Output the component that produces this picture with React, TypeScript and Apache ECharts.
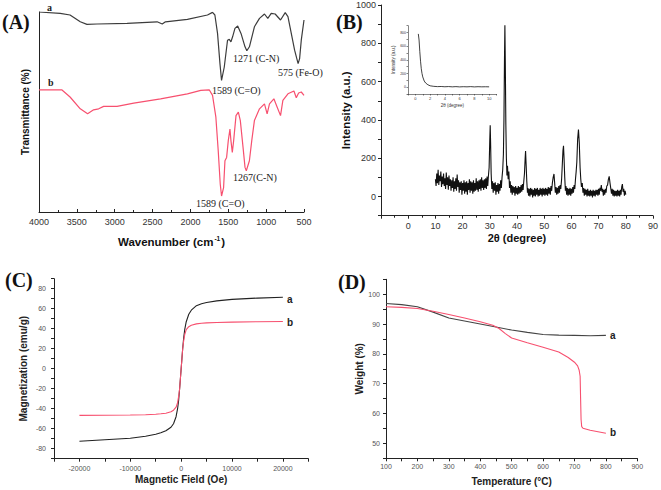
import React, { useEffect, useRef } from "react";
import * as echarts from "echarts";

// ---------- Panel A: FTIR ----------
const ftirWaveA = [4000, 3720, 3590, 3455, 3367, 3234, 2836, 2440, 2372, 2330, 2040, 1775, 1708, 1677, 1642, 1610, 1589, 1553, 1510, 1487, 1465, 1443, 1412, 1376, 1332, 1279, 1255, 1221, 1155, 1088, 1022, 978, 933, 881, 810, 748, 712, 624, 578, 558, 536, 500];
const ftirTransA = [100, 99.3, 98.5, 95.1, 93.8, 94, 94.3, 95.1, 94, 95.1, 96.3, 98.5, 99.8, 98.5, 89.3, 74.2, 65.8, 72.5, 85.9, 86.3, 85.1, 87.6, 91.8, 93, 89.3, 82.6, 80.6, 82.6, 92.6, 96.8, 99, 96.8, 99.3, 99, 96, 99.7, 97.7, 80.9, 74.2, 76.7, 85.9, 96];
const ftirWaveB = [4000, 3700, 3590, 3455, 3358, 3279, 3212, 3146, 2969, 2748, 2394, 2040, 1863, 1752, 1708, 1664, 1633, 1606, 1589, 1562, 1544, 1522, 1500, 1478, 1465, 1447, 1429, 1398, 1367, 1341, 1305, 1279, 1262, 1221, 1190, 1155, 1088, 1022, 987, 956, 898, 854, 810, 779, 712, 633, 602, 571, 536, 500];
const ftirTransB = [61.1, 61.1, 57.5, 51.6, 49.1, 51.1, 51.6, 52.8, 52.8, 54.4, 56.6, 59.1, 60.8, 61.1, 58.3, 47.4, 30.7, 13.9, 8, 12.2, 25.6, 27.3, 35.7, 41.5, 35.7, 29.8, 35.7, 48.2, 49.9, 45.7, 32.3, 22.3, 20.6, 25.6, 35.7, 45.7, 51.6, 54.1, 49.1, 54.1, 56.6, 52.4, 48.2, 55.8, 59.1, 60.5, 57.1, 59.5, 60, 58.3];
const ftirTicks = [4000, 3500, 3000, 2500, 2000, 1500, 1000, 500];

// ---------- Panel B: XRD ([2θ, intensity]) ----------
const xrdPattern = [[10,90],[10.25,55],[10.5,120],[10.75,70],[11,140],[11.25,60],[11.5,110],[11.75,80],[12,130],[12.25,50],[12.5,105],[12.75,65],[13,120],[13.25,55],[13.5,95],[13.75,40],[14,125],[14.25,60],[14.5,100],[14.75,35],[15,110],[15.25,55],[15.5,90],[15.75,30],[16,85],[16.25,45],[16.5,100],[16.75,25],[17,80],[17.25,40],[17.5,95],[17.75,30],[18,115],[18.25,50],[18.5,85],[18.75,20],[19,75],[19.25,35],[19.5,80],[19.75,10],[20,70],[20.25,30],[20.5,85],[20.75,15],[21,75],[21.25,25],[21.5,80],[21.75,10],[22,70],[22.25,35],[22.5,90],[22.75,20],[23,80],[23.25,30],[23.5,75],[23.75,15],[24,85],[24.25,25],[24.5,70],[24.75,30],[25,95],[25.25,35],[25.5,80],[25.75,25],[26,85],[26.25,40],[26.5,90],[26.75,30],[27,100],[27.25,45],[27.5,85],[27.75,35],[28,90],[28.25,45],[28.5,95],[28.75,40],[29,105],[29.25,55],[29.5,110],[29.75,150],[30,300],[30.15,372],[30.3,280],[30.5,120],[30.75,40],[31,80],[31.25,20],[31.5,70],[31.75,30],[32,75],[32.25,10],[32.5,60],[32.75,25],[33,70],[33.25,15],[33.5,65],[33.75,30],[34,85],[34.25,45],[34.5,100],[34.75,140],[35,220],[35.2,400],[35.4,720],[35.55,894],[35.7,700],[35.9,380],[36.1,200],[36.3,110],[36.5,160],[36.75,90],[37,130],[37.25,45],[37.5,80],[37.75,20],[38,60],[38.25,10],[38.5,55],[38.75,20],[39,50],[39.25,5],[39.5,55],[39.75,15],[40,45],[40.25,10],[40.5,55],[40.75,15],[41,50],[41.25,20],[41.5,60],[41.75,25],[42,65],[42.25,35],[42.5,80],[42.75,120],[43,200],[43.15,238],[43.35,170],[43.6,80],[43.85,20],[44,45],[44.25,5],[44.5,40],[44.75,0],[45,45],[45.25,10],[45.5,40],[45.75,-5],[46,35],[46.25,5],[46.5,45],[46.75,0],[47,40],[47.25,10],[47.5,45],[47.75,0],[48,35],[48.25,5],[48.5,45],[48.75,10],[49,40],[49.25,0],[49.5,45],[49.75,10],[50,40],[50.25,5],[50.5,45],[50.75,10],[51,40],[51.25,5],[51.5,50],[51.75,15],[52,45],[52.25,10],[52.5,55],[52.75,30],[53,70],[53.3,100],[53.6,118],[53.85,70],[54.1,20],[54.35,50],[54.6,10],[54.85,45],[55.1,15],[55.35,55],[55.6,20],[55.85,60],[56.1,40],[56.4,90],[56.7,180],[56.9,240],[57.1,265],[57.3,200],[57.55,100],[57.8,30],[58,55],[58.25,10],[58.5,45],[58.75,5],[59,40],[59.25,10],[59.5,45],[59.75,5],[60,40],[60.25,15],[60.5,50],[60.75,20],[61,60],[61.25,40],[61.5,90],[61.75,130],[62,180],[62.3,300],[62.6,350],[62.9,280],[63.2,150],[63.45,90],[63.7,50],[64,70],[64.25,20],[64.5,45],[64.75,5],[65,40],[65.25,10],[65.5,35],[65.75,0],[66,40],[66.25,5],[66.5,30],[66.75,0],[67,35],[67.25,5],[67.5,30],[67.75,-5],[68,35],[68.25,5],[68.5,30],[68.75,0],[69,35],[69.25,10],[69.5,35],[69.75,5],[70,40],[70.25,10],[70.5,45],[70.75,30],[71,60],[71.25,25],[71.5,40],[71.75,5],[72,35],[72.25,10],[72.5,40],[72.75,20],[73,55],[73.3,60],[73.6,90],[73.9,105],[74.2,70],[74.5,40],[74.75,15],[75,40],[75.25,5],[75.5,35],[75.75,0],[76,30],[76.25,5],[76.5,30],[76.75,0],[77,35],[77.25,5],[77.5,30],[77.75,0],[78,35],[78.25,10],[78.5,50],[78.75,65],[79,25],[79.25,40],[79.5,5],[79.75,30],[80,10]];
const insetTheta = [0.4, 0.5, 0.6, 0.7, 0.8, 0.9, 1.0, 1.2, 1.4, 1.7, 2.0, 2.5, 3, 3.5, 4, 4.5, 5, 5.5, 6, 6.5, 7, 7.5, 8, 8.5, 9, 9.5, 10];
const insetIntensity = [780, 690, 520, 380, 270, 200, 150, 90, 60, 35, 20, 12, 8, 10, 6, 9, 5, 8, 4, 7, 5, 8, 4, 7, 5, 6, 5];

// ---------- Panel C: VSM ----------
const vsmField = [-20000, -15000, -10000, -7000, -5000, -4000, -3000, -2000, -1500, -1000, -700, -500, -300, -150, 0, 150, 300, 500, 700, 1000, 1500, 2000, 3000, 4000, 5000, 7000, 10000, 15000, 20000];
const vsmMagA = [-72.5, -71, -69.5, -67.5, -65.5, -64, -62, -58.5, -55, -48, -40, -32, -20, -10, 0, 10, 20, 31, 39, 47, 54.5, 58.5, 63, 65, 66.2, 67.8, 69.3, 70.6, 71.5];
const vsmMagB = [-46.7, -46.5, -46.3, -46, -45.5, -45.1, -44.5, -43, -41.5, -38.5, -34, -28, -20, -10, 0, 10, 20, 28, 34, 39, 42, 43.5, 44.8, 45.4, 45.8, 46.2, 46.6, 47, 47.2];

// ---------- Panel D: TGA ----------
const tgaTempA = [100, 150, 200, 250, 300, 350, 400, 450, 500, 550, 600, 650, 700, 750, 800];
const tgaWeightA = [96.9, 96.5, 95.8, 94, 92, 91, 90, 89, 88, 87.2, 86.5, 86.3, 86.2, 86.1, 86.2];
const tgaTempB = [100, 150, 200, 250, 300, 350, 400, 440, 460, 480, 500, 550, 600, 650, 680, 700, 710, 715, 718, 719.5, 721, 723, 727, 750, 800];
const tgaWeightB = [95.8, 95.6, 95.2, 94.3, 93.2, 92, 90.8, 89.6, 88.5, 86.8, 85.3, 83.7, 82.2, 80.6, 78.8, 77.2, 76, 74.5, 72.5, 65, 58, 55.6, 55.1, 54.4, 53.4];

const BLACK = "#3c3c3c";
const RED = "#f7506f";
const SANS = "Liberation Sans, Arial, sans-serif";
const SERIF = "Liberation Serif, Times New Roman, serif";

const zip = (xs: number[], ys: number[]) => xs.map((x, i) => [x, ys[i]]);

function lineSeries(xi: number, data: number[][], color: string, width = 1.2) {
  return {
    type: "line",
    xAxisIndex: xi,
    yAxisIndex: xi,
    data,
    showSymbol: false,
    symbol: "none",
    smooth: false,
    lineStyle: { color, width },
    silent: true,
  };
}

const axisLine = { show: true, onZero: false, lineStyle: { color: "#222", width: 1 } };

export default function App() {
  const ref = useRef<HTMLDivElement>(null);
  useEffect(() => {
    const chart = echarts.init(ref.current!, null, { renderer: "svg" });
    const option: any = {
      animation: false,
      backgroundColor: "#ffffff",
      grid: [
        { left: 39, right: 357, top: 12, bottom: 278 },
        { left: 381, right: 8, top: 5, bottom: 274.3 },
        { left: 408, right: 164.5, top: 25.7, bottom: 396 },
        { left: 54, right: 352.7, top: 278.7, bottom: 31.3 },
        { left: 386, right: 23.7, top: 279.3, bottom: 31.7 },
      ],
      xAxis: [
        {
          gridIndex: 0, type: "value", min: 500, max: 4000, interval: 500, inverse: true,
          axisLine, splitLine: { show: false },
          axisTick: { inside: true, length: 3, lineStyle: { color: "#222" } },
          minorTick: { show: true, splitNumber: 2, length: 2, lineStyle: { color: "#222" } },
          axisLabel: { fontSize: 9, color: "#333", fontFamily: SANS, margin: 5,
            formatter: (v: number) => (ftirTicks.includes(v) ? String(v) : "") },
          name: "{t|Wavenumber (cm}{s|-1}{t|)}", nameLocation: "middle", nameGap: 23,
          nameTextStyle: { rich: {
            t: { fontSize: 11.5, fontWeight: "bold", fontFamily: SANS, color: "#111" },
            s: { fontSize: 6.5, fontWeight: "bold", fontFamily: SANS, color: "#111", padding: [0, 1, 7, 1] },
          } },
        },
        {
          gridIndex: 1, type: "value", min: -10, max: 90, interval: 10,
          axisLine, splitLine: { show: false },
          axisTick: { length: 3, lineStyle: { color: "#222" } },
          minorTick: { show: true, splitNumber: 2, length: 2, lineStyle: { color: "#222" } },
          axisLabel: { fontSize: 9, color: "#333", fontFamily: SANS, margin: 6,
            formatter: (v: number) => (v >= 0 ? String(v) : "") },
          name: "2θ (degree)", nameLocation: "middle", nameGap: 17,
          nameTextStyle: { fontSize: 11, fontWeight: "bold", fontFamily: SANS, color: "#111" },
        },
        {
          gridIndex: 2, type: "value", min: -1, max: 11, interval: 1,
          axisLine: { show: true, onZero: false, lineStyle: { color: "#333", width: 0.6 } },
          splitLine: { show: false },
          axisTick: { length: 1.5, lineStyle: { color: "#333", width: 0.6 } },
          axisLabel: { fontSize: 4, color: "#333", fontFamily: SANS, margin: 2,
            formatter: (v: number) => (v >= 0 && v <= 10 && v % 2 === 0 ? String(v) : "") },
          name: "2θ (degree)", nameLocation: "middle", nameGap: 9,
          nameTextStyle: { fontSize: 4.5, color: "#333", fontFamily: SANS },
        },
        {
          gridIndex: 3, type: "value", min: -25000, max: 25000, interval: 5000,
          axisLine, splitLine: { show: false },
          axisTick: { length: 3, lineStyle: { color: "#222" } },
          axisLabel: { fontSize: 7, color: "#555", fontFamily: SANS, margin: 6,
            formatter: (v: number) => (v % 10000 === 0 && Math.abs(v) <= 20000 ? String(v) : "") },
          name: "Magnetic Field (Oe)", nameLocation: "middle", nameGap: 16,
          nameTextStyle: { fontSize: 10, fontWeight: "bold", fontFamily: SANS, color: "#222" },
        },
        {
          gridIndex: 4, type: "value", min: 100, max: 900, interval: 50,
          axisLine, splitLine: { show: false },
          axisTick: { length: 3, lineStyle: { color: "#222" } },
          axisLabel: { fontSize: 7, color: "#555", fontFamily: SANS, margin: 5,
            formatter: (v: number) => (v % 100 === 0 ? String(v) : "") },
          name: "Temperature (°C)", nameLocation: "middle", nameGap: 18,
          nameTextStyle: { fontSize: 10, fontWeight: "bold", fontFamily: SANS, color: "#222" },
        },
      ],
      yAxis: [
        {
          gridIndex: 0, type: "value", min: 0, max: 100,
          axisLine, axisTick: { show: false }, axisLabel: { show: false }, splitLine: { show: false },
          name: "Transmittance (%)", nameLocation: "middle", nameGap: 9,
          nameTextStyle: { fontSize: 10, fontWeight: "bold", fontFamily: SANS, color: "#111" },
        },
        {
          gridIndex: 1, type: "value", min: -100, max: 1000, interval: 100,
          axisLine, splitLine: { show: false },
          axisTick: { length: 3, lineStyle: { color: "#222" } },
          axisLabel: { fontSize: 9, color: "#333", fontFamily: SANS, margin: 5,
            formatter: (v: number) => (v >= 0 && v % 200 === 0 ? String(v) : "") },
          name: "Intensity (a.u.)", nameLocation: "middle", nameGap: 28,
          nameTextStyle: { fontSize: 11.5, fontWeight: "bold", fontFamily: SANS, color: "#111" },
        },
        {
          gridIndex: 2, type: "value", min: -100, max: 900, interval: 100,
          axisLine: { show: true, onZero: false, lineStyle: { color: "#333", width: 0.6 } },
          splitLine: { show: false },
          axisTick: { length: 1.5, lineStyle: { color: "#333", width: 0.6 } },
          axisLabel: { fontSize: 3.5, color: "#333", fontFamily: SANS, margin: 2,
            formatter: (v: number) => (v >= 0 && v % 200 === 0 ? String(v) : "") },
          name: "Intensity (a.u.)", nameLocation: "middle", nameGap: 11,
          nameTextStyle: { fontSize: 4.5, color: "#333", fontFamily: SANS },
        },
        {
          gridIndex: 3, type: "value", min: -90, max: 90, interval: 10,
          axisLine, splitLine: { show: false },
          axisTick: { length: 3, lineStyle: { color: "#222" } },
          axisLabel: { fontSize: 7, color: "#555", fontFamily: SANS, margin: 8,
            formatter: (v: number) => (v % 20 === 0 && Math.abs(v) <= 80 ? String(v) : "") },
          name: "Magnetization (emu/g)", nameLocation: "middle", nameGap: 26,
          nameTextStyle: { fontSize: 10, fontWeight: "bold", fontFamily: SANS, color: "#222" },
        },
        {
          gridIndex: 4, type: "value", min: 45, max: 105, interval: 5,
          axisLine, splitLine: { show: false },
          axisTick: { length: 3, lineStyle: { color: "#222" } },
          axisLabel: { fontSize: 7, color: "#555", fontFamily: SANS, margin: 6,
            formatter: (v: number) => (v % 10 === 0 && v >= 50 && v <= 100 ? String(v) : "") },
          name: "Weight (%)", nameLocation: "middle", nameGap: 22,
          nameTextStyle: { fontSize: 10, fontWeight: "bold", fontFamily: SANS, color: "#222" },
        },
      ],
      series: [
        lineSeries(0, zip(ftirWaveA, ftirTransA), BLACK),
        lineSeries(0, zip(ftirWaveB, ftirTransB), RED),
        lineSeries(1, xrdPattern, "#111", 1.1),
        lineSeries(2, zip(insetTheta, insetIntensity), "#111", 0.8),
        lineSeries(3, zip(vsmField, vsmMagA), "#222", 1.1),
        lineSeries(3, zip(vsmField, vsmMagB), RED, 1.1),
        lineSeries(4, zip(tgaTempA, tgaWeightA), "#444", 1.1),
        lineSeries(4, zip(tgaTempB, tgaWeightB), RED, 1.1),
      ],
      graphic: [
        { type: "text", left: 2, top: 12, style: { text: "(A)", font: `bold 20px ${SERIF}`, fill: "#111" } },
        { type: "text", left: 336, top: 12, style: { text: "(B)", font: `bold 20px ${SERIF}`, fill: "#111" } },
        { type: "text", left: 5, top: 270, style: { text: "(C)", font: `bold 20px ${SERIF}`, fill: "#111" } },
        { type: "text", left: 338, top: 272, style: { text: "(D)", font: `bold 20px ${SERIF}`, fill: "#111" } },
        { type: "text", left: 47, top: 2, style: { text: "a", font: `bold 10px ${SERIF}`, fill: "#222" } },
        { type: "text", left: 48, top: 77, style: { text: "b", font: `bold 10px ${SERIF}`, fill: "#222" } },
        { type: "text", left: 212, top: 85, style: { text: "1589 (C=O)", font: `10px ${SERIF}`, fill: "#222" } },
        { type: "text", left: 233, top: 53, style: { text: "1271 (C-N)", font: `10px ${SERIF}`, fill: "#222" } },
        { type: "text", left: 278, top: 67, style: { text: "575 (Fe-O)", font: `10px ${SERIF}`, fill: "#222" } },
        { type: "text", left: 233, top: 172, style: { text: "1267(C-N)", font: `10px ${SERIF}`, fill: "#222" } },
        { type: "text", left: 196, top: 198, style: { text: "1589 (C=O)", font: `10px ${SERIF}`, fill: "#222" } },
        { type: "text", left: 287, top: 294, style: { text: "a", font: `bold 10px ${SANS}`, fill: "#222" } },
        { type: "text", left: 287, top: 317, style: { text: "b", font: `bold 10px ${SANS}`, fill: "#222" } },
        { type: "text", left: 610, top: 330, style: { text: "a", font: `bold 10px ${SANS}`, fill: "#222" } },
        { type: "text", left: 610, top: 427, style: { text: "b", font: `bold 10px ${SANS}`, fill: "#222" } },
      ],
    };
    chart.setOption(option);
    return () => chart.dispose();
  }, []);
  return <div ref={ref} style={{ position: "absolute", left: 0, top: 0, width: 661, height: 490, background: "#fff" }} />;
}
